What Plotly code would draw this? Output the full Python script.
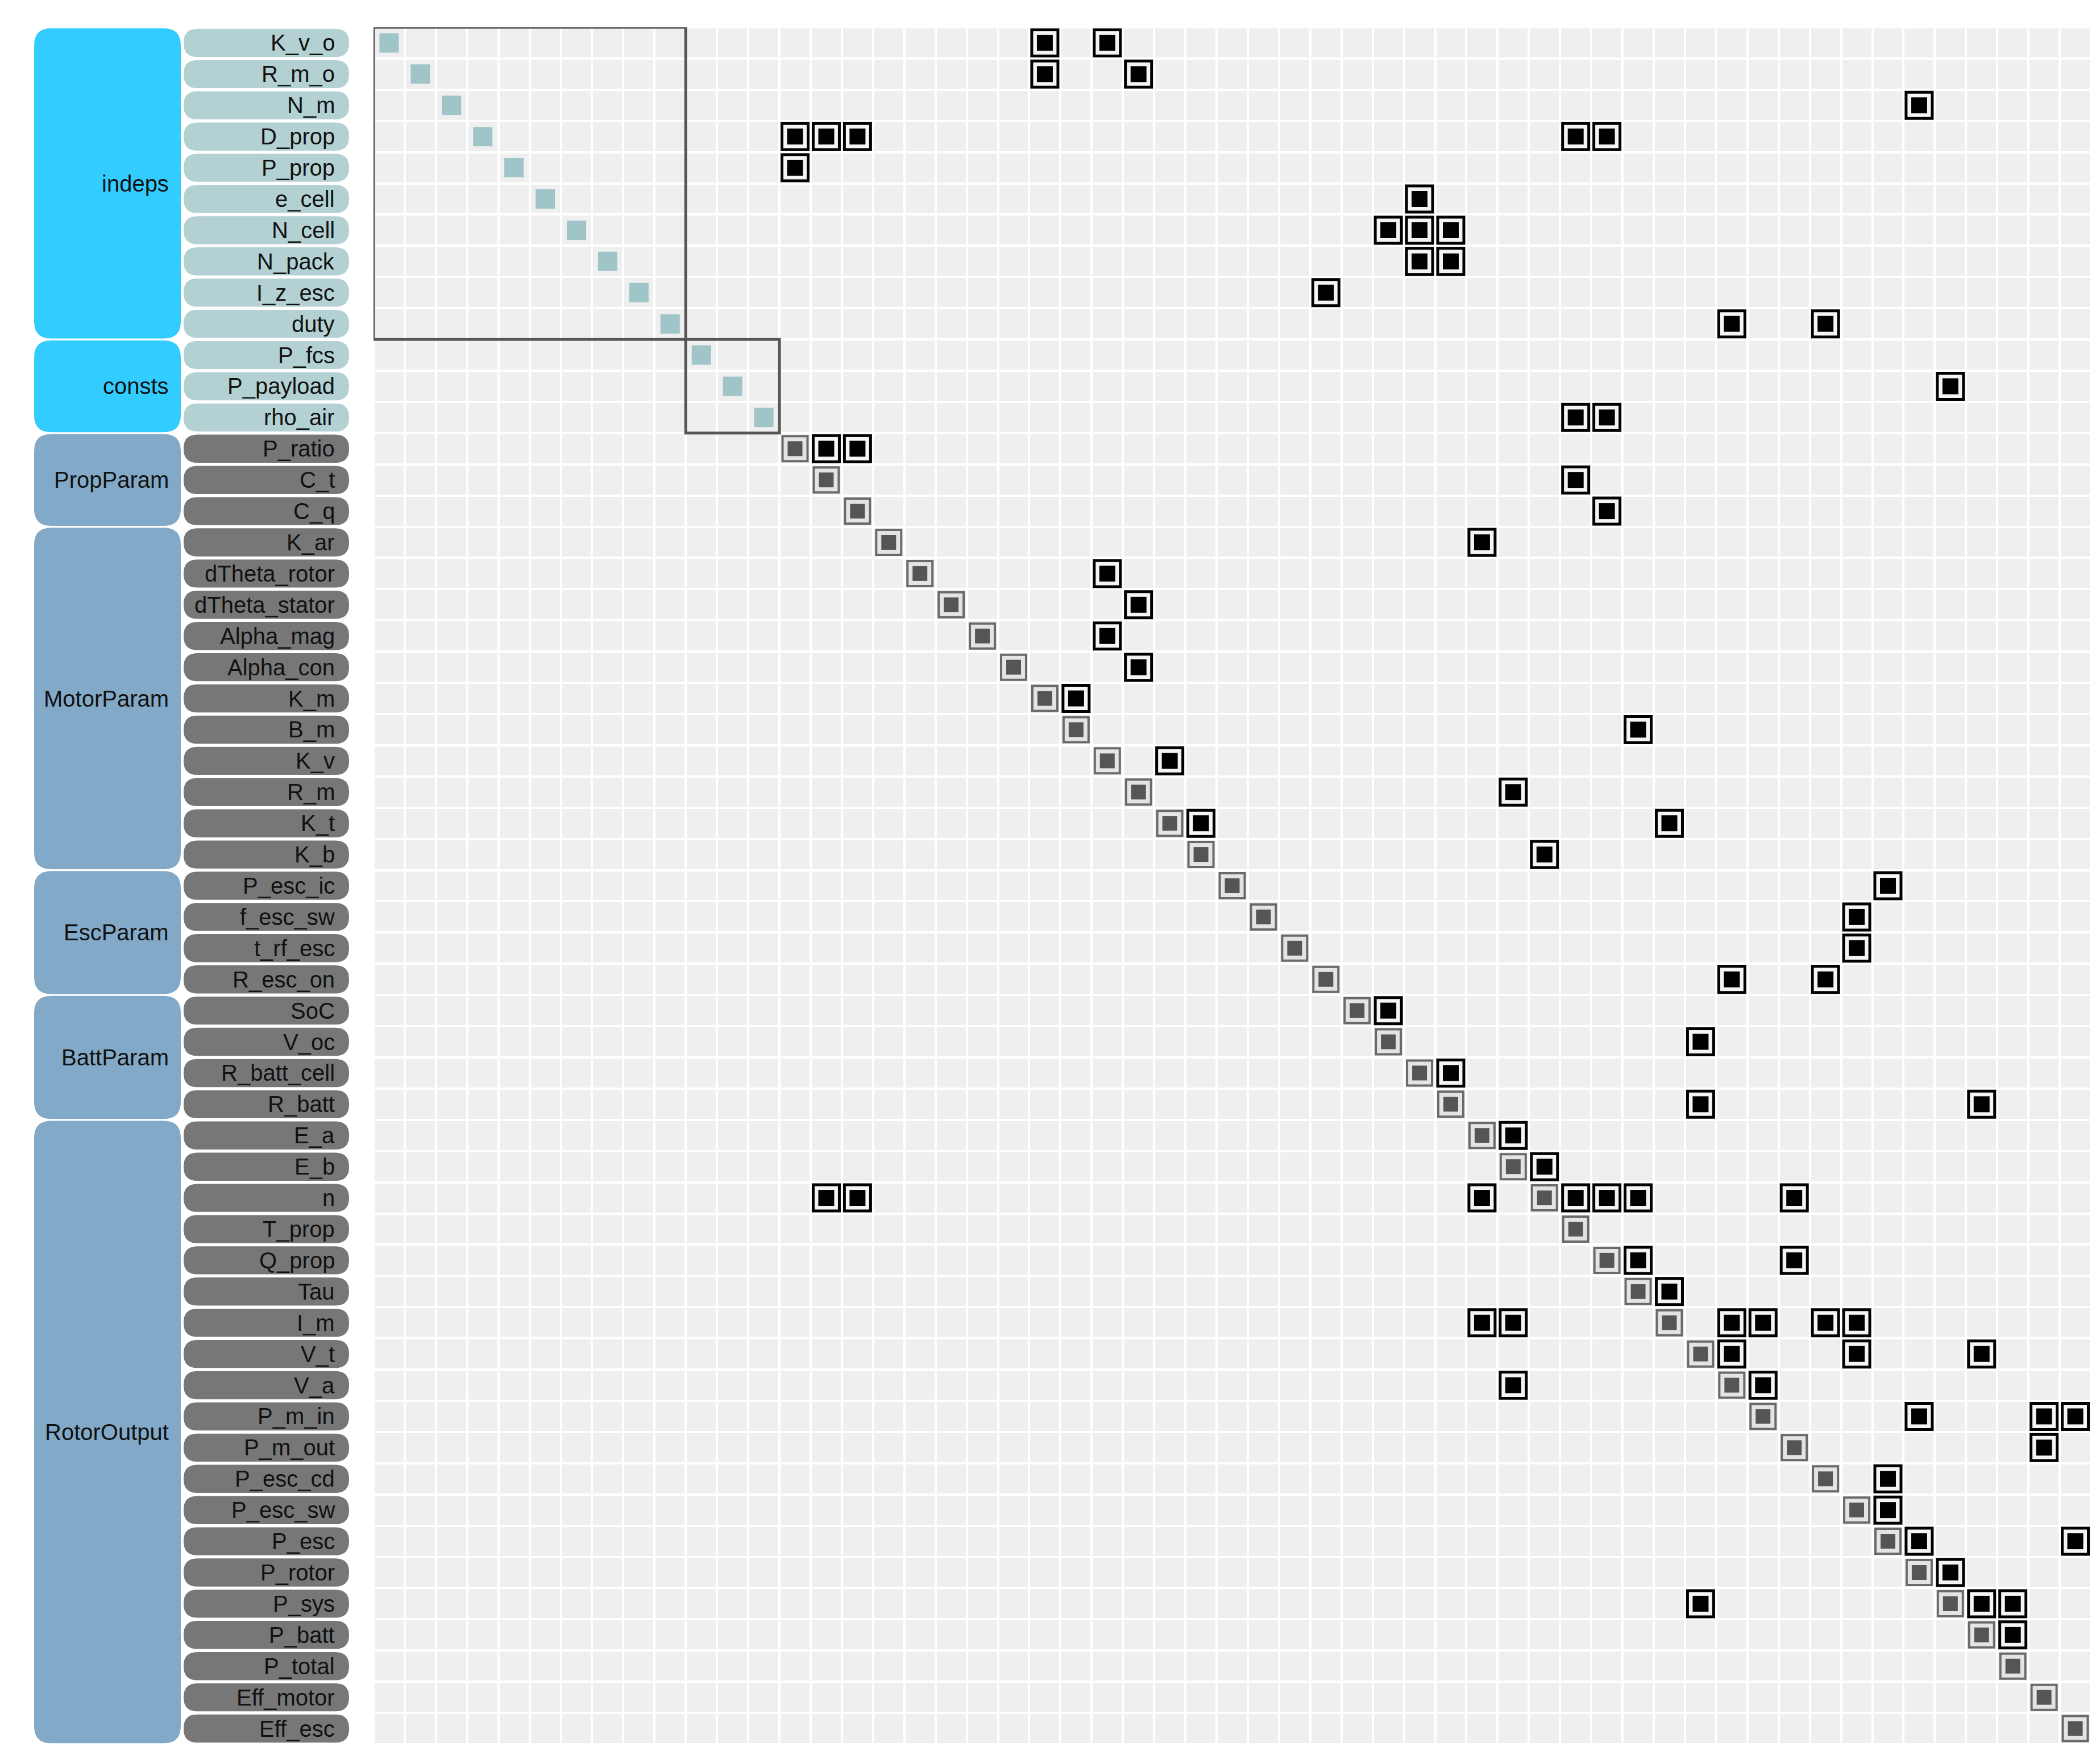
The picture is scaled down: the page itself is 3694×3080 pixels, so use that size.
import plotly.graph_objects as go

groups = ["indeps", "consts", "PropParam", "MotorParam", "EscParam", "BattParam", "RotorOutput"]
group_sizes = [10, 3, 3, 11, 4, 4, 20]
names = ["K_v_o", "R_m_o", "N_m", "D_prop", "P_prop", "e_cell", "N_cell", "N_pack", "I_z_esc", "duty",
         "P_fcs", "P_payload", "rho_air",
         "P_ratio", "C_t", "C_q",
         "K_ar", "dTheta_rotor", "dTheta_stator", "Alpha_mag", "Alpha_con", "K_m", "B_m", "K_v", "R_m", "K_t", "K_b",
         "P_esc_ic", "f_esc_sw", "t_rf_esc", "R_esc_on",
         "SoC", "V_oc", "R_batt_cell", "R_batt",
         "E_a", "E_b", "n", "T_prop", "Q_prop", "Tau", "I_m", "V_t", "V_a", "P_m_in", "P_m_out",
         "P_esc_cd", "P_esc_sw", "P_esc", "P_rotor", "P_sys", "P_batt", "P_total", "Eff_motor", "Eff_esc"]
# off-diagonal dependencies: row -> list of columns
deps = {0: [21, 23], 1: [21, 24], 2: [49], 3: [13, 14, 15, 38, 39], 4: [13], 5: [33],
        6: [32, 33, 34], 7: [33, 34], 8: [30], 9: [43, 46], 11: [50], 12: [38, 39],
        13: [14, 15], 14: [38], 15: [39], 16: [35], 17: [23], 18: [24], 19: [23], 20: [24],
        21: [22], 22: [40], 23: [25], 24: [36], 25: [26, 41], 26: [37], 27: [48], 28: [47],
        29: [47], 30: [43, 46], 31: [32], 32: [42], 33: [34], 34: [42, 51], 35: [36], 36: [37],
        37: [14, 15, 35, 38, 39, 40, 45], 39: [40, 45], 40: [41], 41: [35, 36, 43, 44, 46, 47],
        42: [43, 47, 51], 43: [36, 44], 44: [49, 53, 54], 45: [53], 46: [48], 47: [48],
        48: [49, 54], 49: [50], 50: [42, 51, 52], 51: [52]}

N = len(names)
W, H = 3694, 3080
L, R, T, B = 649, 24, 40, 20
PW = W - L - R
CELL = (H - T - B) / N
FONT = "Liberation Sans Narrow, Liberation Sans, Arial"


def px2paper(px):
    return (px - L) / PW


def rounded(x0, x1, y0, y1, r):
    # x in pixels (converted to paper), y in data units
    rx, ry = r / PW, r / CELL
    a, b = px2paper(x0), px2paper(x1)
    return (f"M {a + rx},{y0} L {b - rx},{y0} Q {b},{y0} {b},{y0 + ry} "
            f"L {b},{y1 - ry} Q {b},{y1} {b - rx},{y1} L {a + rx},{y1} "
            f"Q {a},{y1} {a},{y1 - ry} L {a},{y0 + ry} Q {a},{y0} {a + rx},{y0} Z")


fig = go.Figure()
fig.add_trace(go.Heatmap(z=[[0] * N for _ in range(N)], x=list(range(N)), y=list(range(N)),
                         colorscale=[[0, "#efefef"], [1, "#efefef"]], showscale=False,
                         xgap=4, ygap=4, hoverinfo="skip"))

n_input = group_sizes[0] + group_sizes[1]
idx = list(range(N))
fig.add_trace(go.Scatter(x=idx[:n_input], y=idx[:n_input], mode="markers",
                         marker=dict(symbol="square", size=34, color="#9fc5c8", line=dict(width=0))))
fig.add_trace(go.Scatter(x=idx[n_input:], y=idx[n_input:], mode="markers",
                         marker=dict(symbol="square", size=44, color="#e4e4e4", line=dict(color="#6a6a6a", width=4))))
fig.add_trace(go.Scatter(x=idx[n_input:], y=idx[n_input:], mode="markers",
                         marker=dict(symbol="square", size=26, color="#555555", line=dict(width=0))))

xs = [c for r, cs in deps.items() for c in cs]
ys = [r for r, cs in deps.items() for c in cs]
fig.add_trace(go.Scatter(x=xs, y=ys, mode="markers",
                         marker=dict(symbol="square", size=46, color="#f4f4f4", line=dict(color="#000000", width=5))))
fig.add_trace(go.Scatter(x=xs, y=ys, mode="markers",
                         marker=dict(symbol="square", size=28, color="#000000", line=dict(width=0))))

shapes, annotations = [], []
# highlight boxes for indeps and consts
start = 0
for g, n in zip(groups[:2], group_sizes[:2]):
    shapes.append(dict(type="rect", xref="x", yref="y", x0=start - 0.5, x1=start + n - 0.5,
                       y0=start - 0.5, y1=start + n - 0.5, line=dict(color="#555555", width=5)))
    start += n

start = 0
for i, (g, n) in enumerate(zip(groups, group_sizes)):
    col = "#33ccff" if i < 2 else "#82a9c7"
    shapes.append(dict(type="path", xref="paper", yref="y", layer="above",
                       path=rounded(52, 310, start - 0.47, start + n - 0.53, 30),
                       fillcolor=col, line=dict(width=0)))
    annotations.append(dict(xref="paper", yref="y", x=px2paper(291), y=start + (n - 1) / 2, text=g,
                            showarrow=False, xanchor="right", font=dict(family=FONT, size=40, color="#111")))
    for k in range(start, start + n):
        vcol = "#b3d1d3" if i < 2 else "#777777"
        shapes.append(dict(type="path", xref="paper", yref="y", layer="above",
                           path=rounded(315, 606, k - 0.45, k + 0.45, 24),
                           fillcolor=vcol, line=dict(width=0)))
        annotations.append(dict(xref="paper", yref="y", x=px2paper(583), y=k, text=names[k],
                                showarrow=False, xanchor="right", font=dict(family=FONT, size=40, color="#111")))
    start += n

fig.update_layout(width=W, height=H, margin=dict(l=L, r=R, t=T, b=B),
                  paper_bgcolor="white", plot_bgcolor="white", showlegend=False,
                  shapes=shapes, annotations=annotations,
                  xaxis=dict(range=[-0.5, N - 0.5], visible=False, fixedrange=True),
                  yaxis=dict(range=[N - 0.5, -0.5], visible=False, fixedrange=True))
fig.write_html("out.html")
